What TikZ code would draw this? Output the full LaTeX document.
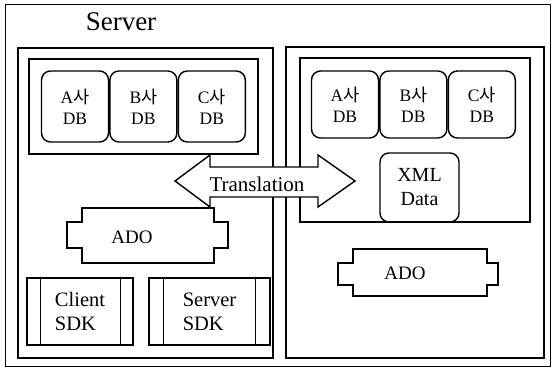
\documentclass[tikz,border=0pt]{standalone}
\usepackage{fontspec}
\setmainfont{Liberation Serif}
\newfontfamily\kr{Noto Sans CJK KR}
\usetikzlibrary{positioning}

\begin{document}
\begin{tikzpicture}[x = 1pt, y = -1pt, line width = 1.4pt,
    dbbox/.style = {draw, rounded corners = 9pt, minimum width = 67pt, minimum height = 71pt,
      inner sep = 0pt, align = center, font = \fontsize{17.5}{21}\selectfont},
    sdkbox/.style = {draw, minimum height = 67pt, inner sep = 0pt, align = left,
      font = \fontsize{20.5}{24}\selectfont},
    adotext/.style = {font = \fontsize{19}{21}\selectfont}]
        \useasboundingbox (0,0) rectangle (552,371);
        % frame and the two sides
        \draw[line width = 1pt] (5,5) rectangle (550,367);
        \node[font = \fontsize{27}{30}\selectfont] (server) at (121,22) {Server};
        \draw (18,48) rectangle (273,358);
        \draw (29,59) rectangle (258,154);
        \draw (286,47) rectangle (544,358);
        \draw (300,58) rectangle (530,222);
        % left databases
        \node[dbbox] (dbAL) at (75,106.5) {A{\kr 사}\\DB};
        \node[dbbox, right = 0pt of dbAL] (dbBL) {B{\kr 사}\\DB};
        \node[dbbox, right = 0pt of dbBL] (dbCL) {C{\kr 사}\\DB};
        % right databases
        \node[dbbox, minimum height = 67pt] (dbAR) at (345,104.5) {A{\kr 사}\\DB};
        \node[dbbox, minimum height = 67pt, right = 0pt of dbAR] (dbBR) {B{\kr 사}\\DB};
        \node[dbbox, minimum height = 67pt, right = 0pt of dbBR] (dbCR) {C{\kr 사}\\DB};
        \node[dbbox, minimum width = 79pt, minimum height = 69pt, font = \fontsize{20}{24}\selectfont]
          (xml) at (419.5,187.5) {XML\\Data};
        % ADO blocks
        \draw (82,208) -- (214,208) -- (214,222) -- (228,222) -- (228,248) -- (214,248) -- (214,263)
          -- (82,263) -- (82,248) -- (67,248) -- (67,222) -- (82,222) -- cycle;
        \node[adotext] (adoL) at (132,237) {ADO};
        \draw (353,249) -- (487,249) -- (487,263) -- (498,263) -- (498,285) -- (487,285) -- (487,296)
          -- (353,296) -- (353,285) -- (338,285) -- (338,263) -- (353,263) -- cycle;
        \node[adotext] (adoR) at (405,273) {ADO};
        % SDK blocks
        \node[sdkbox, minimum width = 106pt] (client) at (80,311.5) {Client\\SDK};
        \draw ([xshift = 14pt]client.north west) -- ([xshift = 14pt]client.south west);
        \draw ([xshift = -13pt]client.north east) -- ([xshift = -13pt]client.south east);
        \node[sdkbox, minimum width = 121pt] (sdk) at (209.5,311.5) {Server\\SDK};
        \draw ([xshift = 15pt]sdk.north west) -- ([xshift = 15pt]sdk.south west);
        \draw ([xshift = -15pt]sdk.north east) -- ([xshift = -15pt]sdk.south east);
        % translation arrow
        \draw[fill = white] (175,181) -- (210,155) -- (210,167) -- (318,167) -- (318,155) -- (355,181)
          -- (318,207) -- (318,197) -- (210,197) -- (210,207) -- cycle;
        \node[font = \fontsize{21}{23}\selectfont, inner sep = 0pt] (trans) at (257,184) {Translation};
      \end{tikzpicture}
\end{document}
